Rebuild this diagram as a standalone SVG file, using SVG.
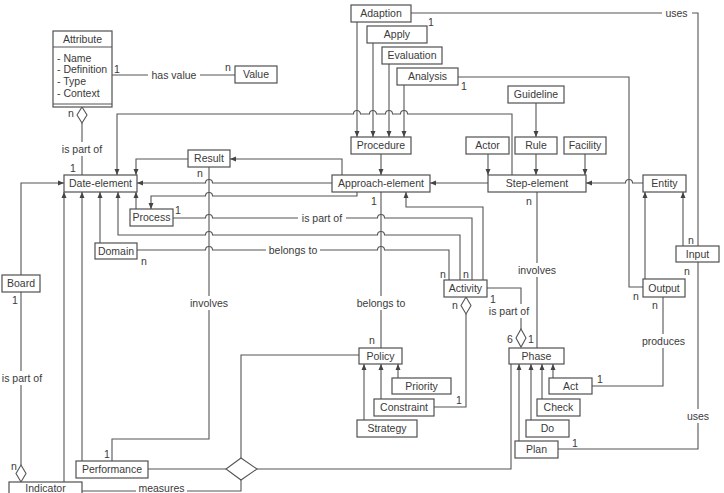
<svg xmlns="http://www.w3.org/2000/svg" width="724" height="493" viewBox="0 0 724 493">
<style>
.b{fill:#fff;stroke:#505050;stroke-width:1.2}
.c{fill:none;stroke:#555;stroke-width:1.1}
.a{marker-end:url(#ah)}
.d{fill:#fff;stroke:#555;stroke-width:1.1}
text{font-family:"Liberation Sans",Arial,sans-serif;font-size:10.5px;fill:#3a3a3a}
.m{text-anchor:middle}
.bg{fill:#fff}
</style>
<defs>
<marker id="ah" viewBox="0 0 6 6" refX="6" refY="3" markerWidth="6" markerHeight="6" markerUnits="userSpaceOnUse" orient="auto"><path d="M0,0.5 L6,3 L0,5.5 z" fill="#444"/></marker>
</defs>
<g id="connectors">
<path class="c" d="M112,75 H235"/>
<path class="c" d="M82,123 V175"/>
<path class="d" d="M82,107 L87,115 L82,123 L77,115 Z"/>
<path class="c a" d="M512,175 V114 H407.5 a3.5,3.5 0 0 0 -7,0 H392.5 a3.5,3.5 0 0 0 -7,0 H376.5 a3.5,3.5 0 0 0 -7,0 H360.5 a3.5,3.5 0 0 0 -7,0 H117 V175"/>
<path class="c a" d="M188,159 H136 V175"/>
<path class="c a" d="M342,175 V159 H230"/>
<path class="c a" d="M332,183 H212.5 a3.5,3.5 0 0 0 -7,0 H137"/>
<path class="c a" d="M357,192 V196 H212.5 a3.5,3.5 0 0 0 -7,0 H151 V209"/>
<path class="c a" d="M136,209 V192"/>
<path class="c" d="M173,218 H205.5 a3.5,3.5 0 0 1 7,0 H377.5 a3.5,3.5 0 0 1 7,0 H472 V280"/>
<path class="c a" d="M460,280 V235 H384.5 a3.5,3.5 0 0 0 -7,0 H212.5 a3.5,3.5 0 0 0 -7,0 H118 V192"/>
<path class="c" d="M137,250 H205.5 a3.5,3.5 0 0 1 7,0 H377.5 a3.5,3.5 0 0 1 7,0 H449 V280"/>
<path class="c a" d="M100,243 V192"/>
<path class="c a" d="M483,280 V207 H406 V192"/>
<path class="c a" d="M381,154 V175"/>
<path class="c a" d="M357,22 V137"/>
<path class="c a" d="M373,43 V137"/>
<path class="c a" d="M389,64 V137"/>
<path class="c a" d="M404,85 V137"/>
<path class="c a" d="M488,183 H430"/>
<path class="c a" d="M536,103 V137"/>
<path class="c a" d="M536,154 V175"/>
<path class="c a" d="M488,154 V175"/>
<path class="c a" d="M585,154 V175"/>
<path class="c a" d="M643,183 H632.5 a3.5,3.5 0 0 0 -7,0 H586"/>
<path class="c" d="M458,77 H629 V287 H643"/>
<path class="c" d="M411,13 H698 V246"/>
<path class="c a" d="M683,246 V192"/>
<path class="c a" d="M645,279 V192"/>
<path class="c" d="M698,262 V449 H558"/>
<path class="c" d="M663,297 V386 H592"/>
<path class="c" d="M537,192 V348"/>
<path class="c" d="M487,288 H521 V329"/>
<path class="d" d="M521,329 L526,338 L521,347 L516,338 Z"/>
<path class="c" d="M466,314 V407 H434"/>
<path class="d" d="M466,297 L471,305.5 L466,314 L461,305.5 Z"/>
<path class="c" d="M381,192 V348"/>
<path class="c a" d="M364,420 V364"/>
<path class="c a" d="M381,399 V364"/>
<path class="c a" d="M398,378 V364"/>
<path class="c a" d="M519,441 V364"/>
<path class="c a" d="M531,420 V364"/>
<path class="c a" d="M542,399 V364"/>
<path class="c a" d="M553,378 V364"/>
<path class="c" d="M209,167 V439 H112 V461"/>
<path class="c a" d="M21,275 V183 H64"/>
<path class="c" d="M21,292 V465"/>
<path class="d" d="M21,465 L26,473.5 L21,482 L16,473.5 Z"/>
<path class="c a" d="M64,482 V192"/>
<path class="c a" d="M82,461 V192"/>
<path class="c" d="M82,491 H241 V480"/>
<path class="c" d="M148,469 H226"/>
<path class="c" d="M241,458 V355 H359"/>
<path class="c" d="M257,469 H511 V364"/>
<path class="d" d="M241,458 L257,469 L241,480 L226,469 Z"/>
<rect class="bg" x="148" y="68" width="52" height="14"/>
<text class="m" x="174" y="78.7">has value</text>
<rect class="bg" x="60" y="142" width="45" height="14"/>
<text class="m" x="82" y="152.7">is part of</text>
<rect class="bg" x="298" y="211" width="48" height="14"/>
<text class="m" x="322" y="221.7">is part of</text>
<rect class="bg" x="266" y="243" width="54" height="14"/>
<text class="m" x="293" y="253.7">belongs to</text>
<rect class="bg" x="188" y="296" width="42" height="14"/>
<text class="m" x="209" y="306.7">involves</text>
<rect class="bg" x="354" y="296" width="54" height="14"/>
<text class="m" x="381" y="306.7">belongs to</text>
<rect class="bg" x="516" y="263" width="42" height="14"/>
<text class="m" x="537" y="273.7">involves</text>
<rect class="bg" x="487" y="304" width="44" height="14"/>
<text class="m" x="509" y="314.7">is part of</text>
<rect class="bg" x="662" y="6" width="30" height="14"/>
<text class="m" x="676.5" y="16.7">uses</text>
<rect class="bg" x="640" y="334" width="47" height="14"/>
<text class="m" x="663.5" y="344.7">produces</text>
<rect class="bg" x="684" y="409" width="28" height="14"/>
<text class="m" x="698" y="419.7">uses</text>
<rect class="bg" x="0" y="371" width="44" height="14"/>
<text class="m" x="22" y="381.7">is part of</text>
<rect class="bg" x="136" y="484" width="51" height="9"/>
<text class="m" x="161.5" y="492.3">measures</text>
<text x="114" y="73">1</text>
<text x="225" y="71">n</text>
<text x="68" y="117">n</text>
<text x="70" y="172">1</text>
<text x="197" y="176.5">n</text>
<text x="175" y="213.5">1</text>
<text x="141" y="265">n</text>
<text x="440" y="278">n</text>
<text x="463" y="278">n</text>
<text x="371" y="205">1</text>
<text x="369" y="344">n</text>
<text x="452" y="309">n</text>
<text x="456" y="404">1</text>
<text x="490" y="303">1</text>
<text x="507" y="343">6</text>
<text x="528" y="343">1</text>
<text x="526" y="205">n</text>
<text x="428" y="25.5">1</text>
<text x="461" y="90">1</text>
<text x="688" y="244">n</text>
<text x="684" y="275">n</text>
<text x="633" y="300">n</text>
<text x="652" y="309">n</text>
<text x="597" y="383">1</text>
<text x="572" y="447">1</text>
<text x="104" y="458">1</text>
<text x="12" y="303.5">1</text>
<text x="11" y="470">n</text>
</g>
<g id="attribute">
<rect class="b" x="53" y="31" width="59" height="76"/>
<path class="c" d="M53,47 H112 M53,104 H112"/>
<text class="m" x="82.5" y="43">Attribute</text>
<text x="57" y="61.5">- Name</text>
<text x="57" y="73">- Definition</text>
<text x="57" y="85">- Type</text>
<text x="57" y="96.5">- Context</text>
</g>
<g id="value"><rect class="b" x="235" y="66" width="42" height="17"/><text class="m" x="256" y="78.2">Value</text></g>
<g id="date-element"><rect class="b" x="64" y="175" width="73" height="17"/><text class="m" x="100.5" y="187.2">Date-element</text></g>
<g id="result"><rect class="b" x="188" y="150" width="42" height="17"/><text class="m" x="209" y="162.2">Result</text></g>
<g id="process"><rect class="b" x="130" y="209" width="43" height="17"/><text class="m" x="151.5" y="221.2">Process</text></g>
<g id="domain"><rect class="b" x="95" y="243" width="42" height="16"/><text class="m" x="116" y="254.7">Domain</text></g>
<g id="board"><rect class="b" x="2" y="275" width="38" height="17"/><text class="m" x="21" y="287.2">Board</text></g>
<g id="performance"><rect class="b" x="76" y="461" width="72" height="17"/><text class="m" x="112" y="473.2">Performance</text></g>
<g id="indicator"><rect class="b" x="9" y="482" width="73" height="18"/><text class="m" x="45.5" y="492.3">Indicator</text></g>
<g id="adaption"><rect class="b" x="351" y="5" width="60" height="17"/><text class="m" x="381" y="17.2">Adaption</text></g>
<g id="apply"><rect class="b" x="367" y="26" width="60" height="17"/><text class="m" x="397" y="38.2">Apply</text></g>
<g id="evaluation"><rect class="b" x="382" y="47" width="60" height="17"/><text class="m" x="412" y="59.2">Evaluation</text></g>
<g id="analysis"><rect class="b" x="397" y="68" width="61" height="17"/><text class="m" x="427.5" y="80.2">Analysis</text></g>
<g id="procedure"><rect class="b" x="351" y="137" width="60" height="17"/><text class="m" x="381" y="149.2">Procedure</text></g>
<g id="approach-element"><rect class="b" x="332" y="175" width="98" height="17"/><text class="m" x="381" y="187.2">Approach-element</text></g>
<g id="guideline"><rect class="b" x="508" y="86" width="56" height="17"/><text class="m" x="536" y="98.2">Guideline</text></g>
<g id="actor"><rect class="b" x="466" y="137" width="43" height="17"/><text class="m" x="487.5" y="149.2">Actor</text></g>
<g id="rule"><rect class="b" x="515" y="137" width="42" height="17"/><text class="m" x="536" y="149.2">Rule</text></g>
<g id="facility"><rect class="b" x="564" y="137" width="42" height="17"/><text class="m" x="585" y="148.5">Facility</text></g>
<g id="step-element"><rect class="b" x="488" y="175" width="98" height="17"/><text class="m" x="537" y="187.2">Step-element</text></g>
<g id="entity"><rect class="b" x="643" y="175" width="43" height="17"/><text class="m" x="664.5" y="187.2">Entity</text></g>
<g id="input"><rect class="b" x="676" y="246" width="43" height="16"/><text class="m" x="697.5" y="257.7">Input</text></g>
<g id="output"><rect class="b" x="643" y="279" width="42" height="18"/><text class="m" x="664" y="291.7">Output</text></g>
<g id="activity"><rect class="b" x="444" y="280" width="43" height="17"/><text class="m" x="465.5" y="292.2">Activity</text></g>
<g id="policy"><rect class="b" x="359" y="348" width="43" height="16"/><text class="m" x="380.5" y="359.7">Policy</text></g>
<g id="priority"><rect class="b" x="392" y="378" width="59" height="16"/><text class="m" x="421.5" y="389.7">Priority</text></g>
<g id="constraint"><rect class="b" x="374" y="399" width="60" height="17"/><text class="m" x="404" y="411.2">Constraint</text></g>
<g id="strategy"><rect class="b" x="357" y="420" width="60" height="17"/><text class="m" x="387" y="432.2">Strategy</text></g>
<g id="phase"><rect class="b" x="509" y="348" width="55" height="16"/><text class="m" x="536.5" y="359.7">Phase</text></g>
<g id="act"><rect class="b" x="549" y="378" width="43" height="16"/><text class="m" x="570.5" y="389.7">Act</text></g>
<g id="check"><rect class="b" x="537" y="399" width="43" height="17"/><text class="m" x="558.5" y="411.2">Check</text></g>
<g id="do"><rect class="b" x="526" y="420" width="43" height="17"/><text class="m" x="547.5" y="432.2">Do</text></g>
<g id="plan"><rect class="b" x="515" y="441" width="43" height="17"/><text class="m" x="536.5" y="453.2">Plan</text></g>
</svg>
